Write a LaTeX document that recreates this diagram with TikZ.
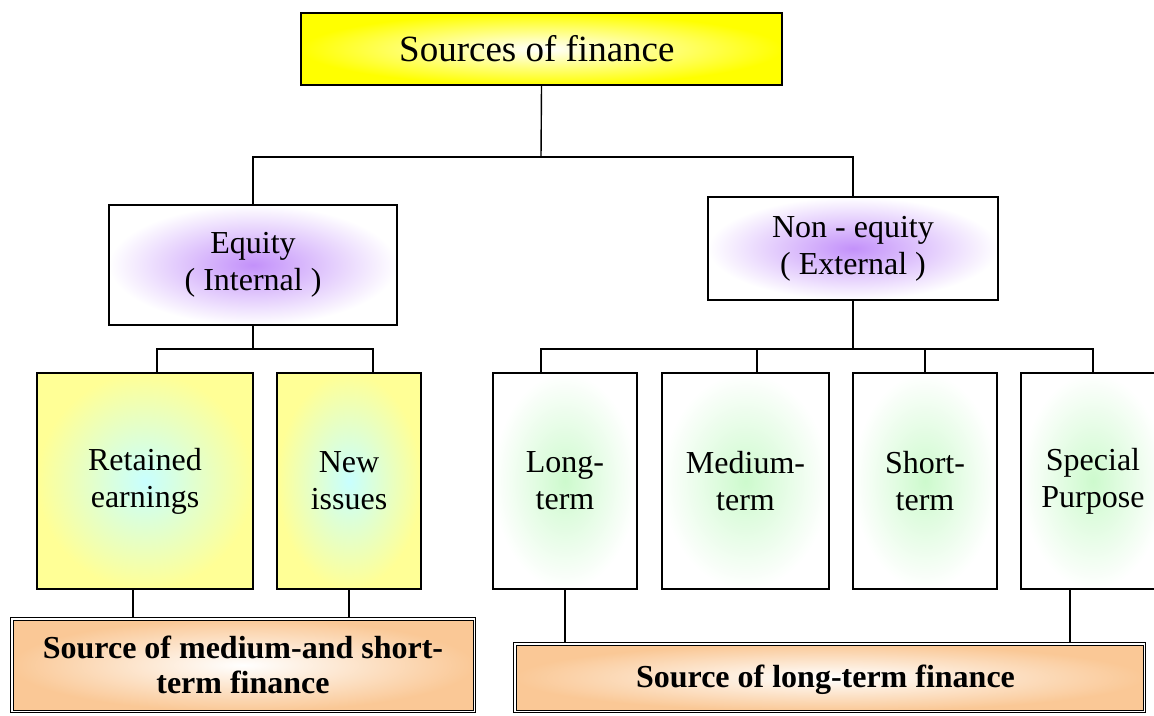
\documentclass[tikz,border=0pt]{standalone}
\usepackage{fontspec}
\setmainfont{Liberation Serif}
\usepackage{tikz}
\usetikzlibrary{calc}
\definecolor{topyellow}{RGB}{255,255,0}
\definecolor{eqpurple}{RGB}{195,145,250}
\definecolor{fundyellow}{RGB}{255,255,150}
\definecolor{fundcyan}{RGB}{200,255,255}
\definecolor{termgreen}{RGB}{205,250,205}
\definecolor{sumpeach}{RGB}{250,200,150}

\begin{document}
\begin{tikzpicture}[x=1pt, y=-1pt,
    box/.style={draw, line width=2pt, inner sep=0pt, align=center, font=\fontsize{32}{37}\selectfont},
    topbox/.style={box, inner color=white, outer color=topyellow, font=\fontsize{37}{44}\selectfont},
    capbox/.style={box, inner color=eqpurple, outer color=white},
    fundbox/.style={box, inner color=fundcyan, outer color=fundyellow, minimum height=216pt},
    termbox/.style={box, inner color=termgreen, outer color=white, minimum height=216pt},
    sumbox/.style={box, line width=1pt, double, double distance=1.5pt, inner color=white, outer color=sumpeach, font=\fontsize{32}{35}\selectfont\bfseries},
    link/.style={line width=1.4pt}]
    \useasboundingbox (0,0) rectangle (1154,715);
    \clip (0,0) rectangle (1154,715);

    \node [topbox, minimum width=481pt, minimum height=72pt] (src) at (541.5,49) { Sources of finance };
    \node [capbox, minimum width=288pt, minimum height=120pt] (eq) at (253,265) { Equity\\( Internal ) };
    \node [capbox, minimum width=290pt, minimum height=103pt] (neq) at (853,248.5) { Non - equity\\( External ) };
    \node [fundbox, minimum width=216pt] (ret) at (145,481) { Retained\\earnings };
    \node [fundbox, minimum width=144pt] (new) at (349,481) { New\\issues };
    \node [termbox, minimum width=144pt] (lng) at (565,481) { Long-\\term };
    \node [termbox, minimum width=167pt] (med) at (745.5,481) { Medium-\\term };
    \node [termbox, minimum width=144pt] (sht) at (925,481) { Short-\\term };
    \node [termbox, minimum width=144pt] (spc) at (1093,481) { Special\\Purpose };
    \node [sumbox, minimum width=462.5pt, minimum height=92.5pt] (msf) at (243,665) { Source of medium-and short-\\term finance };
    \node [sumbox, minimum width=629.5pt, minimum height=67.5pt, text height=23pt, text depth=3.5pt] (ltf) at (829.5,677.5) { Source of long-term finance };

    \coordinate (topfork) at (541,157);
    \coordinate (eqfork) at (253,349);
    \coordinate (neqfork) at (853,349);

    \draw [link] (src.south) -- (topfork);
    \draw [link] (eq.north) |- (topfork) -| (neq.north);

    \draw [link] (eq.south) -- (eqfork);
    \draw [link] ([xshift=12pt]ret.north) |- (eqfork) -| ([xshift=24pt]new.north);

    \draw [link] (neq.south) -- (neqfork);
    \draw [link] ([xshift=-24pt]lng.north) |- (neqfork) -| (spc.north);
    \draw [link] ([xshift=11.5pt]med.north) -- ([xshift=11.5pt]med.north |- neqfork);
    \draw [link] (sht.north) -- (sht.north |- neqfork);

    \draw [link] ([xshift=-12pt]ret.south) -- ([xshift=-12pt]ret.south |- msf.north);
    \draw [link] (new.south) -- (new.south |- msf.north);
    \draw [link] (lng.south) -- (lng.south |- ltf.north);
    \draw [link] ([xshift=-23pt]spc.south) -- ([xshift=-23pt]spc.south |- ltf.north);
\end{tikzpicture}
\end{document}
